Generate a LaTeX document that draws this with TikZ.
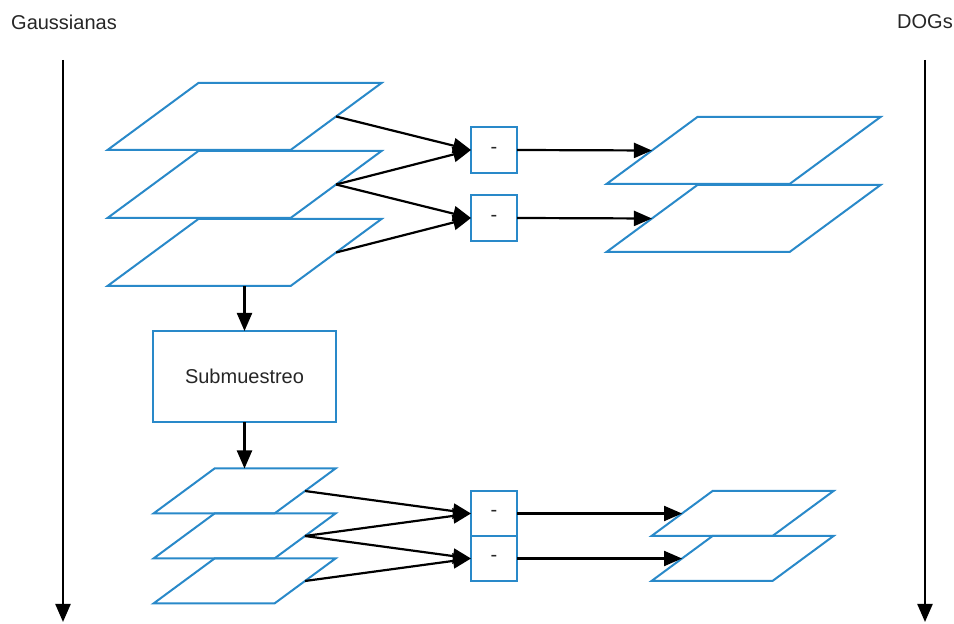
\documentclass[tikz,border=0pt]{standalone}
\usepackage{fontspec}
\setmainfont{Liberation Sans}
\usetikzlibrary{shapes.geometric,arrows.meta}
\definecolor{planeblue}{RGB}{41,137,201}
\tikzset{%
  plane/.style      = {trapezium, trapezium left angle=36.4,%
                       trapezium right angle=143.6, trapezium stretches body,%
                       draw=planeblue, line width=1pt, inner xsep=0pt, inner ysep=16.75pt,%
                       outer sep=0pt, minimum width=137pt},%
  smallplane/.style = {plane, minimum width=91pt, inner ysep=11.25pt},%
  diffbox/.style    = {rectangle, draw=planeblue, line width=1pt, inner sep=0pt,%
                       outer sep=0pt, minimum width=23pt, minimum height=23pt},%
  procbox/.style    = {rectangle, draw=planeblue, line width=1pt, outer sep=0pt,%
                       minimum width=91.5pt, minimum height=45.5pt},%
  flow/.style       = {draw, line width=1.1pt, -{Triangle[length=9pt,width=7.5pt]}}%
}

\begin{document}
\begin{tikzpicture}[x=0.5pt, y=-0.5pt, every node/.style = {font=\normalsize, text=black!85}]%
	\useasboundingbox (0,0) rectangle (954,624);
	% axes
	\node (gtxt) at (64,22) {Gaussianas};
	\node (dtxt) at (925,22) {DOGs};
	\coordinate (gtop) at (63,60);
	\coordinate (gbot) at (63,622);
	\coordinate (dtop) at (925,60);
	\coordinate (dbot) at (925,622);
	\draw[flow] (gtop) -- (gbot);
	\draw[flow] (dtop) -- (dbot);
	% first octave
	\node[plane] (g1) at (244.5,116.5) {};
	\node[plane] (g2) at (244.5,184.5) {};
	\node[plane] (g3) at (244.5,252.5) {};
	\node[diffbox] (d1) at (494,150) {-};
	\node[diffbox] (d2) at (494,218) {-};
	\node[plane] (r1) at (743.5,150.5) {};
	\node[plane] (r2) at (743.5,218.5) {};
	\draw[flow] (g1.east) -- (d1.west);
	\draw[flow] (g2.east) -- (d1.west);
	\draw[flow] (g2.east) -- (d2.west);
	\draw[flow] (g3.east) -- (d2.west);
	\draw[flow] (d1.east) -- (r1.west);
	\draw[flow] (d2.east) -- (r2.west);
	% subsampling
	\node[procbox] (sub) at (244.5,376.5) {Submuestreo};
	\draw[flow] (g3) -- (sub);
	% second octave
	\node[smallplane] (s1) at (244.5,491) {};
	\node[smallplane] (s2) at (244.5,536) {};
	\node[smallplane] (s3) at (244.5,581) {};
	\node[diffbox, minimum height=22.5pt] (e1) at (494,513.5) {-};
	\node[diffbox, minimum height=22.5pt] (e2) at (494,558.5) {-};
	\node[smallplane] (t1) at (742.5,513.5) {};
	\node[smallplane] (t2) at (742.5,558.5) {};
	\draw[flow] (sub) -- (s1);
	\draw[flow] (s1.east) -- (e1.west);
	\draw[flow] (s2.east) -- (e1.west);
	\draw[flow] (s2.east) -- (e2.west);
	\draw[flow] (s3.east) -- (e2.west);
	\draw[flow] (e1.east) -- (t1.west);
	\draw[flow] (e2.east) -- (t2.west);
\end{tikzpicture}
\end{document}
